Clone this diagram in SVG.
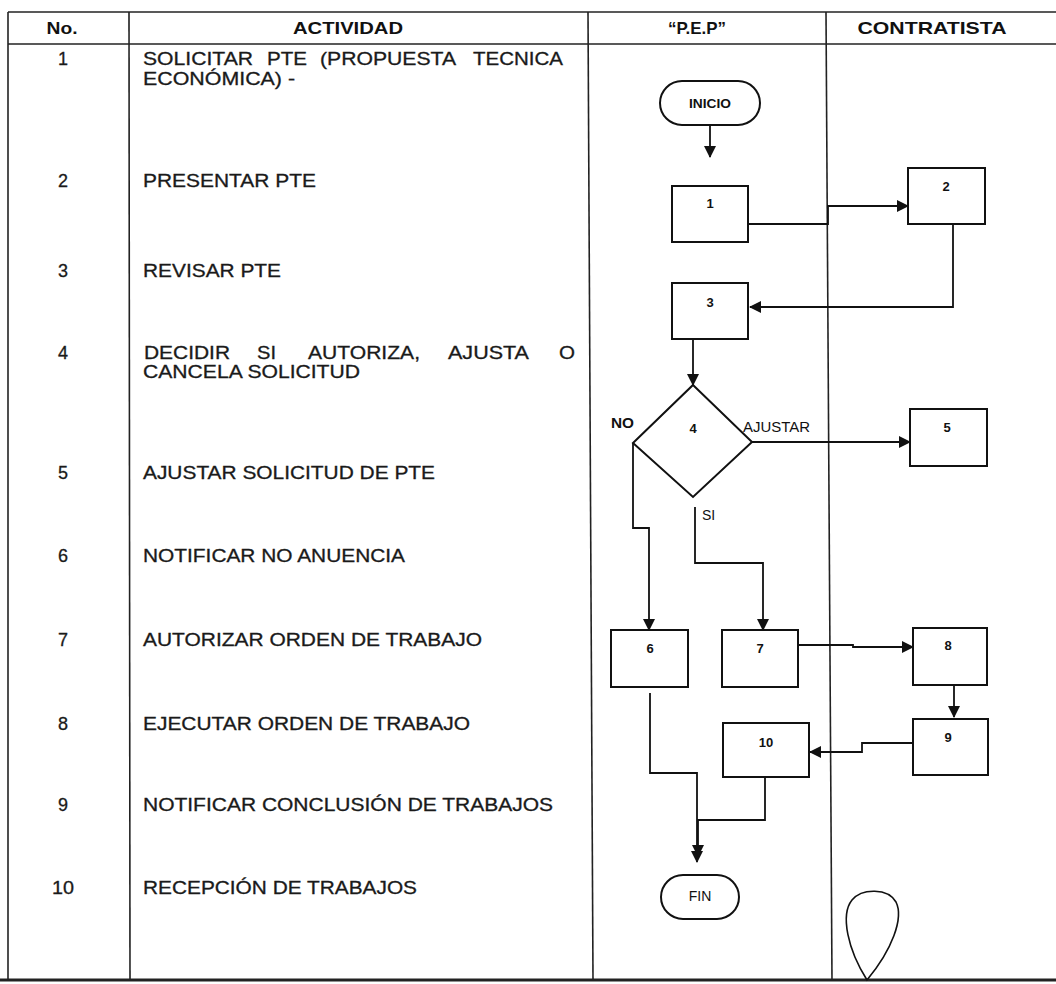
<svg xmlns="http://www.w3.org/2000/svg" width="1056" height="984" viewBox="0 0 1056 984">
<defs>
<marker id="ah" markerUnits="userSpaceOnUse" markerWidth="12" markerHeight="12" refX="11" refY="6" orient="auto">
<path d="M0,0 L12,6 L0,12 Z" fill="#111"/>
</marker>
<style>
.grid{stroke:#222;stroke-width:1.6;fill:none}
.hd{font-family:"Liberation Sans",Arial,sans-serif;font-weight:bold;font-size:17px;fill:#111;text-anchor:middle}
.tx{font-family:"Liberation Sans",Arial,sans-serif;font-size:18px;fill:#1a1a1a;stroke:#1a1a1a;stroke-width:0.3}
.num{font-family:"Liberation Sans",Arial,sans-serif;font-size:18px;fill:#1a1a1a;stroke:#1a1a1a;stroke-width:0.3;text-anchor:middle}
.box{fill:#fff;stroke:#111;stroke-width:2}
.bl{font-family:"Liberation Sans",Arial,sans-serif;font-weight:bold;font-size:13px;fill:#111;text-anchor:middle}
.lb{font-family:"Liberation Sans",Arial,sans-serif;font-size:14px;fill:#111}
.cn{fill:none;stroke:#111;stroke-width:1.8}
</style>
</defs>
<rect width="1056" height="984" fill="#fff"/>
<g id="table">
<line class="grid" x1="8" y1="12" x2="1056" y2="12"/>
<line class="grid" x1="8" y1="44" x2="1056" y2="44"/>
<line class="grid" x1="8" y1="12" x2="8" y2="980"/>
<line class="grid" x1="129" y1="12" x2="130" y2="980"/>
<line class="grid" x1="588" y1="12" x2="593" y2="980"/>
<line class="grid" x1="826" y1="12" x2="832" y2="980"/>
<line x1="0" y1="980" x2="1056" y2="980" stroke="#222" stroke-width="3"/>
<text class="hd" x="62" y="34" textLength="31" lengthAdjust="spacingAndGlyphs">No.</text>
<text class="hd" x="348" y="34" textLength="110" lengthAdjust="spacingAndGlyphs">ACTIVIDAD</text>
<text class="hd" x="697" y="34" textLength="58" lengthAdjust="spacingAndGlyphs">“P.E.P”</text>
<text class="hd" x="932" y="34" textLength="149" lengthAdjust="spacingAndGlyphs">CONTRATISTA</text>
</g>
<g id="rows">
<text class="num" x="63" y="65">1</text>
<text class="tx" x="143" y="65" textLength="110" lengthAdjust="spacingAndGlyphs">SOLICITAR</text>
<text class="tx" x="267" y="65" textLength="40" lengthAdjust="spacingAndGlyphs">PTE</text>
<text class="tx" x="320" y="65" textLength="136" lengthAdjust="spacingAndGlyphs">(PROPUESTA</text>
<text class="tx" x="473" y="65" textLength="90" lengthAdjust="spacingAndGlyphs">TECNICA</text>
<text class="tx" x="143" y="85" textLength="152" lengthAdjust="spacingAndGlyphs">ECONÓMICA)  -</text>
<text class="num" x="63" y="187">2</text>
<text class="tx" x="143" y="187" textLength="173" lengthAdjust="spacingAndGlyphs">PRESENTAR PTE</text>
<text class="num" x="63" y="277">3</text>
<text class="tx" x="143" y="277" textLength="138" lengthAdjust="spacingAndGlyphs">REVISAR PTE</text>
<text class="num" x="63" y="359">4</text>
<text class="tx" x="144" y="359" textLength="86" lengthAdjust="spacingAndGlyphs">DECIDIR</text>
<text class="tx" x="257" y="359" textLength="19" lengthAdjust="spacingAndGlyphs">SI</text>
<text class="tx" x="308" y="359" textLength="112" lengthAdjust="spacingAndGlyphs">AUTORIZA,</text>
<text class="tx" x="448" y="359" textLength="81" lengthAdjust="spacingAndGlyphs">AJUSTA</text>
<text class="tx" x="559" y="359" textLength="16" lengthAdjust="spacingAndGlyphs">O</text>
<text class="tx" x="143" y="378" textLength="217" lengthAdjust="spacingAndGlyphs">CANCELA SOLICITUD</text>
<text class="num" x="63" y="479">5</text>
<text class="tx" x="143" y="479" textLength="292" lengthAdjust="spacingAndGlyphs">AJUSTAR SOLICITUD DE PTE</text>
<text class="num" x="63" y="562">6</text>
<text class="tx" x="143" y="562" textLength="262" lengthAdjust="spacingAndGlyphs">NOTIFICAR NO ANUENCIA</text>
<text class="num" x="63" y="646">7</text>
<text class="tx" x="143" y="646" textLength="339" lengthAdjust="spacingAndGlyphs">AUTORIZAR ORDEN DE TRABAJO</text>
<text class="num" x="63" y="730">8</text>
<text class="tx" x="143" y="730" textLength="327" lengthAdjust="spacingAndGlyphs">EJECUTAR ORDEN DE TRABAJO</text>
<text class="num" x="63" y="811">9</text>
<text class="tx" x="143" y="811" textLength="410" lengthAdjust="spacingAndGlyphs">NOTIFICAR CONCLUSIÓN DE TRABAJOS</text>
<text class="num" x="63" y="894" textLength="22" lengthAdjust="spacingAndGlyphs">10</text>
<text class="tx" x="143" y="894" textLength="274" lengthAdjust="spacingAndGlyphs">RECEPCIÓN DE TRABAJOS</text>
</g>
<g id="connectors">
<path class="cn" d="M710,125 V157" marker-end="url(#ah)"/>
<path class="cn" d="M748,224 H828 V206 H908" marker-end="url(#ah)"/>
<path class="cn" d="M953,224 V307 H750" marker-end="url(#ah)"/>
<path class="cn" d="M693,339 V385" marker-end="url(#ah)"/>
<path class="cn" d="M752,442 H910" marker-end="url(#ah)"/>
<path class="cn" d="M633,443 V528 H649 V630" marker-end="url(#ah)"/>
<path class="cn" d="M695,507 V563 H763 V630" marker-end="url(#ah)"/>
<path class="cn" d="M798,645 H853 V647 H913" marker-end="url(#ah)"/>
<path class="cn" d="M954,685 V717" marker-end="url(#ah)"/>
<path class="cn" d="M913,743 H862 V752 H810" marker-end="url(#ah)"/>
<path class="cn" d="M650,693 V773 H697 V862" marker-end="url(#ah)"/>
<path class="cn" d="M765,777 V820 H698 V856" marker-end="url(#ah)"/>
</g>
<g id="inicio">
<rect class="box" x="660" y="81" width="100" height="44" rx="22"/>
<text class="bl" x="710" y="108" font-size="12" textLength="42" lengthAdjust="spacingAndGlyphs">INICIO</text>
</g>
<g id="n1"><rect class="box" x="672" y="186" width="76" height="56"/><text class="bl" x="710" y="208">1</text></g>
<g id="n2"><rect class="box" x="908" y="168" width="77" height="56"/><text class="bl" x="946" y="191">2</text></g>
<g id="n3"><rect class="box" x="672" y="283" width="76" height="56"/><text class="bl" x="710" y="307">3</text></g>
<g id="n4">
<polygon class="box" points="693,385 752,442 693,497 633,443"/>
<text class="bl" x="693" y="433">4</text>
<text class="lb" x="611" y="428" font-weight="bold" textLength="23" lengthAdjust="spacingAndGlyphs">NO</text>
<text class="lb" x="743" y="432" textLength="67" lengthAdjust="spacingAndGlyphs">AJUSTAR</text>
<text class="lb" x="702" y="520">SI</text>
</g>
<g id="n5"><rect class="box" x="910" y="409" width="77" height="57"/><text class="bl" x="947" y="432">5</text></g>
<g id="n6"><rect class="box" x="611" y="630" width="77" height="57"/><text class="bl" x="650" y="653">6</text></g>
<g id="n7"><rect class="box" x="722" y="630" width="76" height="57"/><text class="bl" x="760" y="653">7</text></g>
<g id="n8"><rect class="box" x="913" y="628" width="74" height="57"/><text class="bl" x="948" y="650">8</text></g>
<g id="n9"><rect class="box" x="913" y="719" width="75" height="56"/><text class="bl" x="948" y="742">9</text></g>
<g id="n10"><rect class="box" x="723" y="723" width="86" height="54"/><text class="bl" x="766" y="747">10</text></g>
<g id="fin">
<rect class="box" x="661" y="875" width="78" height="44" rx="22"/>
<text class="lb" x="700" y="901" text-anchor="middle" font-size="15">FIN</text>
</g>
<g id="drop">
<path d="M867,980 C848,950 840,915 852,900 C862,888 888,888 896,902 C904,918 892,950 867,980 Z" fill="none" stroke="#111" stroke-width="1.6"/>
</g>
</svg>
